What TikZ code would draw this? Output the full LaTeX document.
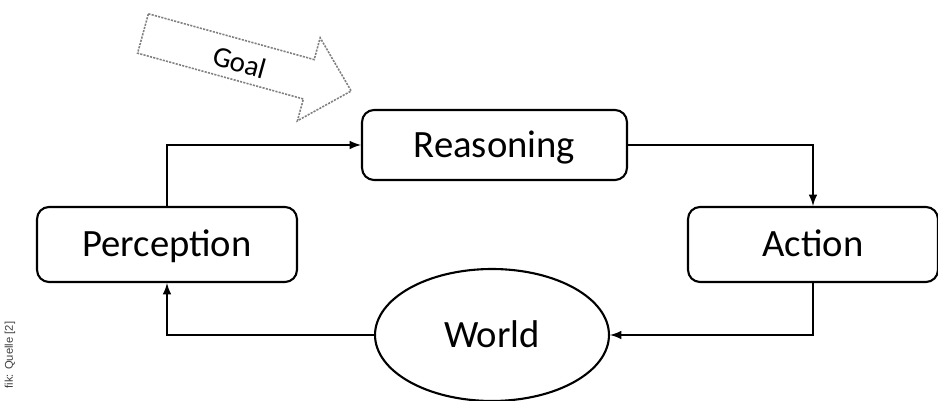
\documentclass[tikz,border=0pt]{standalone}
\usepackage{fontspec}
\setsansfont{Carlito}
\newfontfamily\notefont{Liberation Sans}
\usetikzlibrary{shapes.geometric}

\begin{document}
\begin{tikzpicture}[x=0.02cm,y=-0.02cm,>=latex,
  box/.style={draw,rounded corners=0.24cm,line width=1.2pt,inner sep=0pt,
    text height=0.5cm,text depth=0pt,
    font=\sffamily\fontsize{22}{24}\selectfont},
  flow/.style={->,line width=1.2pt}]

\useasboundingbox (0,0) rectangle (938,401);

% goal arrow
\draw[gray,dash pattern=on 1.2pt off 0.7pt,line width=0.9pt]
  (148.4,13.8) -- (314.2,59.6) -- (320.2,37.8) -- (351.2,91)
  -- (297.4,120.8) -- (303.4,99) -- (137.6,53.2) -- cycle;
\node[rotate=-15.5,font=\sffamily\fontsize{16.5}{18}\selectfont] (goal) at (240,62) {Goal};

\node[box,minimum width=5.3cm,minimum height=1.4cm] (reasoning) at (494.5,145) {Reasoning};
\node[box,minimum width=5.2cm,minimum height=1.5cm] (perception) at (167,244.5) {Perception};
\node[box,minimum width=5.0cm,minimum height=1.5cm] (action) at (813,244.5) {Action};
\node[box,ellipse,rounded corners=0pt,minimum width=4.68cm,minimum height=2.64cm] (world) at (492,335) {World};

\draw[flow] (perception) |- (reasoning);
\draw[flow] (reasoning) -| (action);
\draw[flow] (action) |- (world);
\draw[flow] (world) -| (perception);

\node[rotate=90,font=\notefont\fontsize{6.4}{7}\selectfont,text=black!75] (source) at (10,355) {fik: Quelle [2]};

\end{tikzpicture}
\end{document}
